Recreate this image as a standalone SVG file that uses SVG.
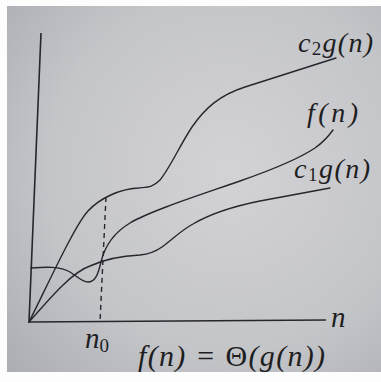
<svg xmlns="http://www.w3.org/2000/svg" width="381" height="382" viewBox="0 0 381 382">
<defs>
<radialGradient id="bg" cx="230" cy="170" r="330" gradientUnits="userSpaceOnUse">
<stop offset="0" stop-color="#d3d3d7"/>
<stop offset="0.55" stop-color="#c4c5c9"/>
<stop offset="1" stop-color="#a4a7ac"/>
</radialGradient>
<style>
.ln{fill:none;stroke:#26262b;stroke-width:1.4;stroke-linecap:round;stroke-linejoin:round}
.ax{fill:none;stroke:#26262b;stroke-width:1.6}
.ds{fill:none;stroke:#26262b;stroke-width:1.4;stroke-dasharray:5 4}
.t{font-style:italic;fill:#1e1e22}
.u{font-style:normal}
</style>
</defs>
<rect x="0" y="0" width="381" height="382" fill="#fdfdfd"/>
<rect x="7" y="6" width="374" height="366" fill="url(#bg)"/>
<g id="axes">
<path class="ax" d="M41,33 L29,322 L326,320"/>
</g>
<g id="curves">
<path id="c2g" class="ln" d="M29,322 C50,280 75,225 88,211 C100,198 120,189 138,188 C148,187 152,188 160,180 C170,168 180,145 192,127 C205,108 220,95 245,87 L336,58"/>
<path id="f" class="ln" d="M31,268 C45,267 60,266 70,272 C78,277 82,282 88,282 C95,282 98,275 101,262 C105,245 115,232 130,223 C150,211 200,195 240,181 C280,167 300,158 315,148 C322,143 328,137 333,130"/>
<path id="c1g" class="ln" d="M29,322 C50,298 72,272 90,266 C105,259 120,256 140,255 C150,254 155,252 162,247 C172,240 180,231 193,224 C210,214 230,207 260,201 L330,188"/>
<path id="n0line" class="ds" d="M106,197 L100,322"/>
</g>
<g id="labels" font-family="Liberation Serif, DejaVu Serif, serif">
<text class="t" x="298" y="52" font-size="28" textLength="75" lengthAdjust="spacing">c<tspan class="u" font-size="19" dy="3">2</tspan><tspan dy="-3">g(n)</tspan></text>
<text class="t" x="307" y="122" font-size="28" textLength="51" lengthAdjust="spacing">f(n)</text>
<text class="t" x="294" y="178" font-size="28" textLength="76" lengthAdjust="spacing">c<tspan class="u" font-size="19" dy="3">1</tspan><tspan dy="-3">g(n)</tspan></text>
<text class="t" x="331" y="327" font-size="29">n</text>
<text class="t" x="85" y="348" font-size="29">n<tspan class="u" font-size="19" dy="4">0</tspan></text>
<text class="t" x="138" y="366" font-size="30" textLength="187" lengthAdjust="spacing">f(n) = <tspan class="u">Θ</tspan>(g(n))</text>
</g>
</svg>
